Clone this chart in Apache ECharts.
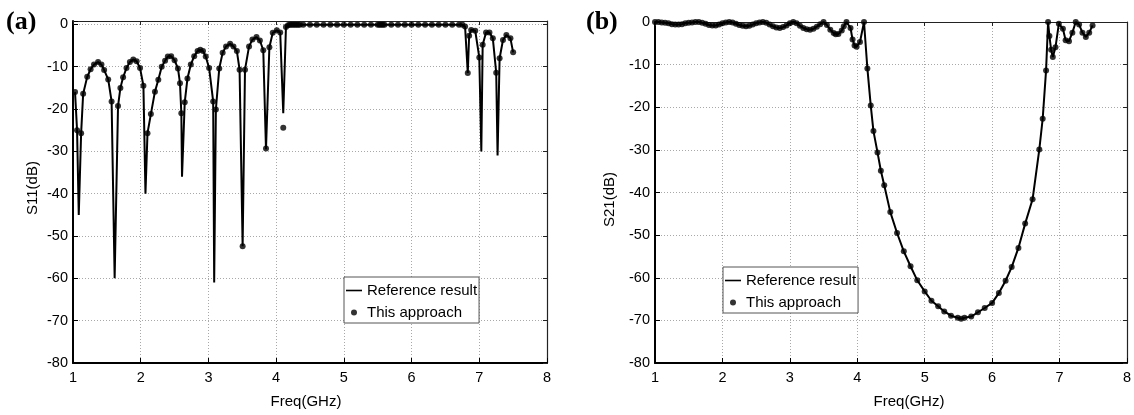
<!DOCTYPE html>
<html>
<head>
<meta charset="utf-8">
<script src="https://cdn.jsdelivr.net/npm/echarts@6/dist/echarts.min.js"></script>
<style>
html,body{margin:0;padding:0;background:#fff;}
#chart{width:1134px;height:415px;}
</style>
</head>
<body>
<div id="chart"></div>
<script>
// ---------- Panel (a): S11 ----------
const xTicks = [1, 2, 3, 4, 5, 6, 7, 8];
const yTicks = [-80, -70, -60, -50, -40, -30, -20, -10, 0];

// Reference result (solid line), panel (a)
const freqRefA = [1.03,1.06,1.085,1.12,1.15,1.21,1.26,1.31,1.37,1.42,1.46,1.52,1.57,1.615,1.665,1.70,1.74,1.79,1.84,1.89,1.94,1.99,2.04,2.07,2.10,2.15,2.21,2.26,2.31,2.36,2.40,2.45,2.50,2.55,2.58,2.60,2.61,2.65,2.69,2.74,2.79,2.84,2.88,2.92,2.96,3.01,3.07,3.085,3.11,3.16,3.21,3.26,3.32,3.37,3.42,3.46,3.505,3.54,3.60,3.65,3.71,3.76,3.81,3.85,3.90,3.95,4.01,4.06,4.105,4.145,4.20,4.40,5.00,6.00,6.75,6.79,6.83,6.85,6.88,6.94,7.00,7.03,7.05,7.10,7.15,7.20,7.25,7.27,7.30,7.35,7.40,7.46,7.50];
const s11RefA = [-16,-25,-45,-25.7,-16.4,-12.4,-10.6,-9.5,-8.9,-9.5,-10.8,-13,-18.2,-60,-19.3,-15,-12.5,-10.3,-8.9,-8.3,-8.7,-10.3,-14.5,-40,-25.7,-21.2,-15.9,-13.1,-10,-8.6,-7.6,-7.5,-8.5,-10.4,-13.9,-21,-36,-18.4,-12.8,-9.5,-7.5,-6.3,-6.0,-6.3,-7.6,-10.3,-18.2,-61,-20.1,-10.4,-6.7,-5.2,-4.6,-5.2,-6.3,-10.7,-52.4,-10.7,-5.2,-3.6,-3.0,-3.8,-6.1,-29.5,-5.4,-2.0,-1.4,-1.9,-21,-0.6,-0.1,-0.1,-0.1,-0.1,-0.1,-0.5,-11.5,-2.7,-1.3,-1.5,-7.8,-30,-4.8,-1.9,-1.9,-3.3,-11.4,-31,-8.0,-3.7,-2.5,-3.3,-6.6];

// This approach (dots), panel (a)
const freqDotA = [1.03,1.06,1.12,1.15,1.21,1.26,1.31,1.37,1.42,1.46,1.52,1.57,1.665,1.70,1.74,1.79,1.84,1.89,1.94,1.99,2.04,2.10,2.15,2.21,2.26,2.31,2.36,2.40,2.45,2.50,2.55,2.58,2.60,2.65,2.69,2.74,2.79,2.84,2.88,2.92,2.96,3.01,3.07,3.11,3.16,3.21,3.26,3.32,3.37,3.42,3.46,3.505,3.54,3.60,3.65,3.71,3.76,3.81,3.85,3.90,3.95,4.01,4.06,4.105,4.145,4.175,4.20,4.225,4.25,4.275,4.30,4.325,4.35,4.40,4.50,4.60,4.70,4.80,4.90,5.00,5.10,5.20,5.30,5.40,5.50,5.525,5.55,5.575,5.60,5.70,5.80,5.90,6.00,6.10,6.20,6.30,6.40,6.50,6.60,6.70,6.75,6.79,6.83,6.85,6.88,6.94,7.00,7.05,7.10,7.15,7.20,7.25,7.30,7.35,7.40,7.46,7.50];
const s11DotA = [-16,-25,-25.7,-16.4,-12.4,-10.6,-9.5,-8.9,-9.5,-10.8,-13,-18.2,-19.3,-15,-12.5,-10.3,-8.9,-8.3,-8.7,-10.3,-14.5,-25.7,-21.2,-15.9,-13.1,-10,-8.6,-7.6,-7.5,-8.5,-10.4,-13.9,-21,-18.4,-12.8,-9.5,-7.5,-6.3,-6.0,-6.3,-7.6,-10.3,-18.2,-20.1,-10.4,-6.7,-5.2,-4.6,-5.2,-6.3,-10.7,-52.4,-10.7,-5.2,-3.6,-3.0,-3.8,-6.1,-29.3,-5.4,-2.0,-1.4,-1.9,-24.4,-0.6,-0.2,-0.1,-0.1,-0.1,-0.1,-0.1,-0.1,-0.1,-0.1,-0.1,-0.1,-0.1,-0.1,-0.1,-0.1,-0.1,-0.1,-0.1,-0.1,-0.1,-0.1,-0.1,-0.1,-0.1,-0.1,-0.1,-0.1,-0.1,-0.1,-0.1,-0.1,-0.1,-0.1,-0.1,-0.1,-0.1,-0.5,-11.5,-2.7,-1.3,-1.5,-7.8,-4.8,-1.9,-1.9,-3.3,-11.4,-8.0,-3.7,-2.5,-3.3,-6.6];

// ---------- Panel (b): S21 ----------
const freqB = [1.00,1.05,1.10,1.15,1.20,1.25,1.30,1.35,1.40,1.45,1.50,1.55,1.60,1.65,1.70,1.75,1.80,1.85,1.90,1.95,2.00,2.05,2.10,2.15,2.20,2.25,2.30,2.35,2.40,2.45,2.50,2.55,2.60,2.65,2.70,2.75,2.80,2.85,2.90,2.95,3.00,3.05,3.10,3.15,3.20,3.25,3.30,3.35,3.40,3.45,3.50,3.55,3.60,3.65,3.68,3.72,3.77,3.80,3.84,3.90,3.93,3.96,3.99,4.04,4.10,4.15,4.20,4.24,4.30,4.35,4.40,4.49,4.59,4.69,4.79,4.89,5.00,5.10,5.20,5.29,5.39,5.49,5.54,5.59,5.69,5.79,5.89,6.00,6.10,6.20,6.29,6.39,6.49,6.60,6.70,6.75,6.80,6.83,6.85,6.875,6.90,6.94,6.99,7.05,7.09,7.14,7.19,7.24,7.29,7.34,7.39,7.44,7.49];
const s21RefB = [0,0,-0.1,-0.2,-0.3,-0.5,-0.6,-0.6,-0.5,-0.3,-0.2,-0.1,0,0,-0.2,-0.4,-0.7,-0.8,-0.8,-0.6,-0.3,-0.1,0,-0.1,-0.4,-0.7,-0.9,-1.0,-0.9,-0.6,-0.3,-0.1,0,-0.2,-0.6,-1.0,-1.3,-1.4,-1.2,-0.8,-0.3,0,-0.3,-0.9,-1.4,-1.7,-1.8,-1.6,-1.1,-0.5,0,-0.7,-1.8,-2.6,-2.9,-2.8,-2.0,-1.0,0,-1.4,-4.1,-5.5,-5.8,-4.7,0,-10.9,-19.6,-25.6,-30.6,-34.9,-38.3,-44.6,-49.5,-53.8,-57.3,-60.6,-63.2,-65.4,-66.7,-67.9,-68.9,-69.4,-69.6,-69.4,-69.1,-68.1,-67.1,-65.9,-63.6,-60.7,-57.5,-53.0,-47.3,-41.6,-29.9,-22.7,-11.4,0,-3.3,-6.5,-8.2,-5.9,-0.4,-1.6,-4.3,-4.5,-2.5,0,-0.6,-2.5,-3.5,-2.5,-0.8];
const s21DotB = s21RefB.slice();

const pairs = (xs, ys) => xs.map((x, i) => [x, ys[i]]);

const FONT = "'Liberation Sans', Arial, Helvetica, sans-serif";
const tickFmt = v => (yTicks.indexOf(v) >= 0 ? String(v) : '');

function mainX(gridIndex, namePad) {
  return {
    type: 'value', gridIndex, position: 'bottom',
    min: xTicks[0], max: xTicks[xTicks.length - 1], interval: 1,
    axisLine: { show: true, onZero: false, lineStyle: { color: '#000', width: 2 } },
    axisTick: { show: true, inside: true, length: 5, lineStyle: { color: '#000', width: 1 } },
    axisLabel: { color: '#000', fontSize: 14.5, fontFamily: FONT, margin: 7 },
    splitLine: { show: true, lineStyle: { color: '#a8a8a8', width: 1, type: [1, 2] } },
    name: 'Freq(GHz)', nameLocation: 'middle', nameGap: 31,
    nameTextStyle: { color: '#000', fontSize: 15, fontFamily: FONT, padding: namePad }
  };
}
function topX(gridIndex) {
  return {
    type: 'value', gridIndex, position: 'top',
    min: xTicks[0], max: xTicks[xTicks.length - 1], interval: 1,
    axisLine: { show: true, onZero: false, lineStyle: { color: '#222', width: 1.2 } },
    axisTick: { show: true, inside: true, length: 4, lineStyle: { color: '#222', width: 1 } },
    axisLabel: { show: false }, splitLine: { show: false }
  };
}
function mainY(gridIndex, max, name, gap, namePad) {
  return {
    type: 'value', gridIndex, position: 'left',
    min: yTicks[0], max: max, interval: 10,
    axisLine: { show: true, onZero: false, lineStyle: { color: '#000', width: 2 } },
    axisTick: { show: true, inside: true, length: 5, lineStyle: { color: '#000', width: 1 } },
    axisLabel: { color: '#000', fontSize: 14.5, fontFamily: FONT, margin: 5, formatter: tickFmt },
    splitLine: { show: true, lineStyle: { color: '#a8a8a8', width: 1, type: [1, 2] } },
    name: name, nameLocation: 'middle', nameGap: gap,
    nameTextStyle: { color: '#000', fontSize: 15, fontFamily: FONT, padding: namePad }
  };
}
function rightY(gridIndex, max) {
  return {
    type: 'value', gridIndex, position: 'right',
    min: yTicks[0], max: max, interval: 10,
    axisLine: { show: true, onZero: false, lineStyle: { color: '#222', width: 1.2 } },
    axisTick: { show: true, inside: true, length: 4, lineStyle: { color: '#222', width: 1 } },
    axisLabel: { show: false }, splitLine: { show: false }
  };
}
function legend(left, top) {
  return {
    orient: 'vertical', left, top,
    data: [
      { name: 'Reference result', icon: 'path://M0,0 L20,0 L20,2 L0,2 Z', itemStyle: { color: '#000' } },
      { name: 'This approach', icon: 'circle', itemStyle: { color: '#000' } }
    ],
    itemWidth: 16, itemHeight: 6, itemGap: 7,
    padding: [6, 2, 3, 2],
    backgroundColor: '#fff', borderColor: '#555', borderWidth: 1, borderRadius: 0,
    textStyle: { color: '#000', fontSize: 15, fontFamily: FONT, lineHeight: 15 },
    selectedMode: false
  };
}

const chart = echarts.init(document.getElementById('chart'), null, { renderer: 'canvas' });
chart.setOption({
  animation: false,
  backgroundColor: '#fff',
  title: [
    { text: '(a)', left: 6, top: 9, padding: 0,
      textStyle: { fontFamily: "'Liberation Serif', 'Times New Roman', serif", fontWeight: 'bold', fontSize: 26, color: '#000' } },
    { text: '(b)', left: 586, top: 9, padding: 0,
      textStyle: { fontFamily: "'Liberation Serif', 'Times New Roman', serif", fontWeight: 'bold', fontSize: 26, color: '#000' } }
  ],
  grid: [
    { left: 73, top: 21, width: 474, height: 342 },
    { left: 655, top: 22, width: 472, height: 341 }
  ],
  legend: [legend(344, 277), legend(723, 267)],
  xAxis: [mainX(0, [0, 8, 0, 0]), mainX(1, [0, 0, 0, 36]), topX(0), topX(1)],
  yAxis: [mainY(0, 0.8, 'S11(dB)', 33, [0, 0, 0, 8]), mainY(1, 0, 'S21(dB)', 38, [0, 14, 0, 0]), rightY(0, 0.8), rightY(1, 0)],
  series: [
    { name: 'Reference result', type: 'line', xAxisIndex: 0, yAxisIndex: 0,
      data: pairs(freqRefA, s11RefA), symbol: 'none', lineStyle: { color: '#000', width: 2 }, itemStyle: { color: '#000' }, z: 2 },
    { name: 'This approach', type: 'scatter', xAxisIndex: 0, yAxisIndex: 0,
      data: pairs(freqDotA, s11DotA), symbol: 'circle', symbolSize: 6, itemStyle: { color: '#000' }, z: 3 },
    { name: 'Reference result', type: 'line', xAxisIndex: 1, yAxisIndex: 1,
      data: pairs(freqB, s21RefB), symbol: 'none', lineStyle: { color: '#000', width: 2 }, itemStyle: { color: '#000' }, z: 2 },
    { name: 'This approach', type: 'scatter', xAxisIndex: 1, yAxisIndex: 1,
      data: pairs(freqB, s21DotB), symbol: 'circle', symbolSize: 6, itemStyle: { color: '#000' }, z: 3 }
  ]
});
</script>
</body>
</html>
